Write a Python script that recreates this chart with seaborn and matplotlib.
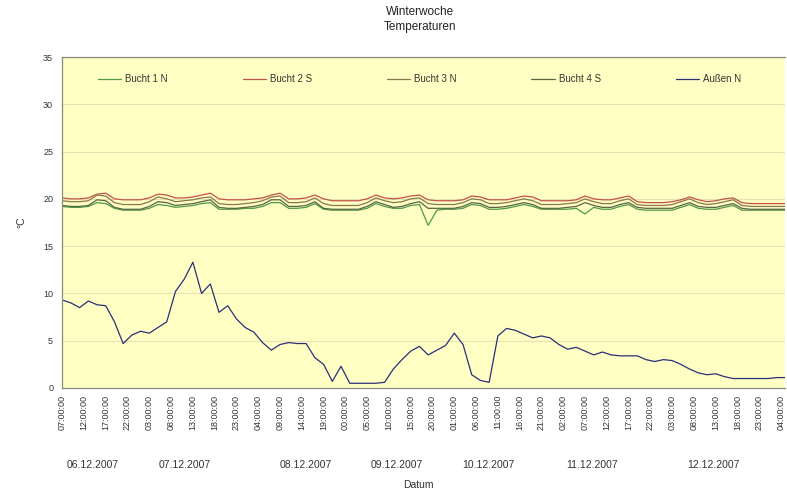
import numpy as np
import pandas as pd
import seaborn as sns
import matplotlib.pyplot as plt
from matplotlib.transforms import blended_transform_factory

hours = np.arange(0, 167, 2)

bucht_1n = [19.2, 19.1, 19.1, 19.2, 19.6, 19.5, 19.0, 18.8, 18.8, 18.8, 19.0, 19.4,
            19.3, 19.1, 19.2, 19.3, 19.5, 19.6, 18.9, 18.9, 18.9, 19.0, 19.0, 19.2,
            19.6, 19.6, 19.0, 19.0, 19.1, 19.5, 18.9, 18.8, 18.8, 18.8, 18.8, 19.0,
            19.5, 19.2, 19.0, 19.0, 19.3, 19.4, 17.2, 18.8, 18.9, 18.9, 19.0, 19.4,
            19.3, 18.9, 18.9, 19.0, 19.2, 19.4, 19.2, 18.9, 18.9, 18.9, 18.9, 19.0,
            18.4, 19.1, 18.9, 18.9, 19.2, 19.4, 18.9, 18.8, 18.8, 18.8, 18.8, 19.1,
            19.4, 19.0, 18.9, 18.9, 19.1, 19.3, 18.8, 18.8, 18.8, 18.8, 18.8, 18.8]
bucht_2s = [20.1, 20.0, 20.0, 20.1, 20.5, 20.6, 20.0, 19.9, 19.9, 19.9, 20.1, 20.5,
            20.4, 20.1, 20.1, 20.2, 20.4, 20.6, 20.0, 19.9, 19.9, 19.9, 20.0, 20.1,
            20.4, 20.6, 20.0, 20.0, 20.1, 20.4, 20.0, 19.8, 19.8, 19.8, 19.8, 20.0,
            20.4, 20.1, 20.0, 20.1, 20.3, 20.4, 19.9, 19.8, 19.8, 19.8, 19.9, 20.3,
            20.2, 19.9, 19.9, 19.9, 20.1, 20.3, 20.2, 19.8, 19.8, 19.8, 19.8, 19.9,
            20.3, 20.0, 19.9, 19.9, 20.1, 20.3, 19.7, 19.6, 19.6, 19.6, 19.7, 19.9,
            20.2, 19.9, 19.7, 19.8, 20.0, 20.1, 19.6, 19.5, 19.5, 19.5, 19.5, 19.5]
bucht_3n = [19.8, 19.7, 19.7, 19.8, 20.4, 20.3, 19.6, 19.4, 19.4, 19.4, 19.7, 20.2,
            20.0, 19.7, 19.8, 19.9, 20.1, 20.2, 19.5, 19.4, 19.4, 19.5, 19.6, 19.8,
            20.2, 20.3, 19.6, 19.6, 19.7, 20.1, 19.5, 19.3, 19.3, 19.3, 19.3, 19.6,
            20.1, 19.8, 19.6, 19.7, 20.0, 20.1, 19.5, 19.4, 19.4, 19.4, 19.6, 20.0,
            19.9, 19.5, 19.5, 19.6, 19.8, 20.0, 19.8, 19.4, 19.4, 19.4, 19.5, 19.6,
            20.0, 19.7, 19.5, 19.5, 19.8, 20.0, 19.4, 19.3, 19.3, 19.3, 19.4, 19.7,
            20.0, 19.6, 19.4, 19.5, 19.7, 19.9, 19.3, 19.2, 19.2, 19.2, 19.2, 19.2]
bucht_4s = [19.3, 19.2, 19.2, 19.3, 19.9, 19.8, 19.1, 18.9, 18.9, 18.9, 19.2, 19.7,
            19.6, 19.3, 19.4, 19.5, 19.7, 19.9, 19.1, 19.0, 19.0, 19.1, 19.2, 19.4,
            19.9, 19.9, 19.2, 19.2, 19.3, 19.7, 19.0, 18.9, 18.9, 18.9, 18.9, 19.2,
            19.7, 19.4, 19.1, 19.2, 19.5, 19.7, 19.0, 19.0, 19.0, 19.0, 19.2, 19.6,
            19.5, 19.1, 19.1, 19.2, 19.4, 19.6, 19.4, 19.0, 19.0, 19.0, 19.1, 19.2,
            19.6, 19.3, 19.1, 19.1, 19.4, 19.6, 19.1, 19.0, 19.0, 19.0, 19.0, 19.3,
            19.6, 19.2, 19.1, 19.1, 19.3, 19.5, 19.0, 18.9, 18.9, 18.9, 18.9, 18.9]
aussen_n = [9.3, 9.0, 8.5, 9.2, 8.8, 8.7, 7.0, 4.7, 5.6, 6.0, 5.8, 6.4,
            7.0, 10.2, 11.5, 13.3, 10.0, 11.0, 8.0, 8.7, 7.3, 6.4, 5.9, 4.8,
            4.0, 4.6, 4.8, 4.7, 4.7, 3.2, 2.5, 0.7, 2.3, 0.5, 0.5, 0.5,
            0.5, 0.6, 2.0, 3.0, 3.9, 4.4, 3.5, 4.0, 4.5, 5.8, 4.6, 1.4,
            0.8, 0.6, 5.5, 6.3, 6.1, 5.7, 5.3, 5.5, 5.3, 4.6, 4.1, 4.3,
            3.9, 3.5, 3.8, 3.5, 3.4, 3.4, 3.4, 3.0, 2.8, 3.0, 2.9, 2.5,
            2.0, 1.6, 1.4, 1.5, 1.2, 1.0, 1.0, 1.0, 1.0, 1.0, 1.1, 1.1]

series_names = ["Bucht 1 N", "Bucht 2 S", "Bucht 3 N", "Bucht 4 S", "Außen N"]
series_colors = ["#4f9a45", "#c4524a", "#8c7650", "#5b6547", "#2a2f7a"]

tick_hours = np.arange(0, 166, 5)
tick_labels = ["07:00:00", "12:00:00", "17:00:00", "22:00:00", "03:00:00", "08:00:00",
               "13:00:00", "18:00:00", "23:00:00", "04:00:00", "09:00:00", "14:00:00",
               "19:00:00", "00:00:00", "05:00:00", "10:00:00", "15:00:00", "20:00:00",
               "01:00:00", "06:00:00", "11:00:00", "16:00:00", "21:00:00", "02:00:00",
               "07:00:00", "12:00:00", "17:00:00", "22:00:00", "03:00:00", "08:00:00",
               "13:00:00", "18:00:00", "23:00:00", "04:00:00"]
date_labels = ["06.12.2007", "07.12.2007", "08.12.2007", "09.12.2007",
               "10.12.2007", "11.12.2007", "12.12.2007"]
date_label_hours = [6.9, 28.1, 55.8, 76.9, 97.9, 121.5, 149.4]

frames = []
for name, vals in zip(series_names, [bucht_1n, bucht_2s, bucht_3n, bucht_4s, aussen_n]):
    frames.append(pd.DataFrame({"h": hours, "temp": vals, "Reihe": name}))
df = pd.concat(frames, ignore_index=True)

sns.set_style("white")
plt.rcParams['font.family'] = ['Liberation Sans', 'DejaVu Sans']

fig = plt.figure(figsize=(7.87, 4.94), dpi=100)
ax = fig.add_axes([0.079, 0.2146, 0.919, 0.67])
ax.set_facecolor("#ffffc4")

sns.lineplot(data=df, x="h", y="temp", hue="Reihe", hue_order=series_names,
             palette=dict(zip(series_names, series_colors)), linewidth=0.9, ax=ax)

ax.set_xlim(0, 166)
ax.set_ylim(0, 35)
ax.set_yticks(range(0, 36, 5))
ax.yaxis.grid(True, color="#e6e2b2", linewidth=0.8)
ax.set_axisbelow(True)
ax.set_xticks(tick_hours)
ax.set_xticklabels(tick_labels, rotation=90, fontsize=6.5, color="#333333")
ax.tick_params(axis="y", labelsize=6.5, colors="#333333", length=3, direction="out")
ax.tick_params(axis="x", length=3, direction="out", pad=2)
for side in ["left", "bottom", "top"]:
    ax.spines[side].set_color("#8a8a7a")
    ax.spines[side].set_linewidth(0.9)
ax.spines["right"].set_visible(False)

ax.set_xlabel("")
ax.set_ylabel("°C", fontsize=7.5, color="#333333", labelpad=12)

leg = ax.legend(ncol=5, loc="upper center", bbox_to_anchor=(0.494, 0.975),
                frameon=False, fontsize=7, handlelength=2.4, columnspacing=7.7,
                handletextpad=0.4)
for t in leg.get_texts():
    t.set_color("#333333")

trans = blended_transform_factory(ax.transData, ax.transAxes)
for lbl, hh in zip(date_labels, date_label_hours):
    ax.text(hh, -0.233, lbl, transform=trans, ha="center", va="center",
            fontsize=7.5, color="#333333")

fig.text(418 / 787, 1 - 485 / 494, "Datum", ha="center", va="center",
         fontsize=7.5, color="#333333")
fig.text(420 / 787, 1 - 6 / 494, "Winterwoche\nTemperaturen", ha="center", va="top",
         fontsize=8.5, color="#222222", linespacing=1.3)

fig.savefig("out.png", dpi=100)
